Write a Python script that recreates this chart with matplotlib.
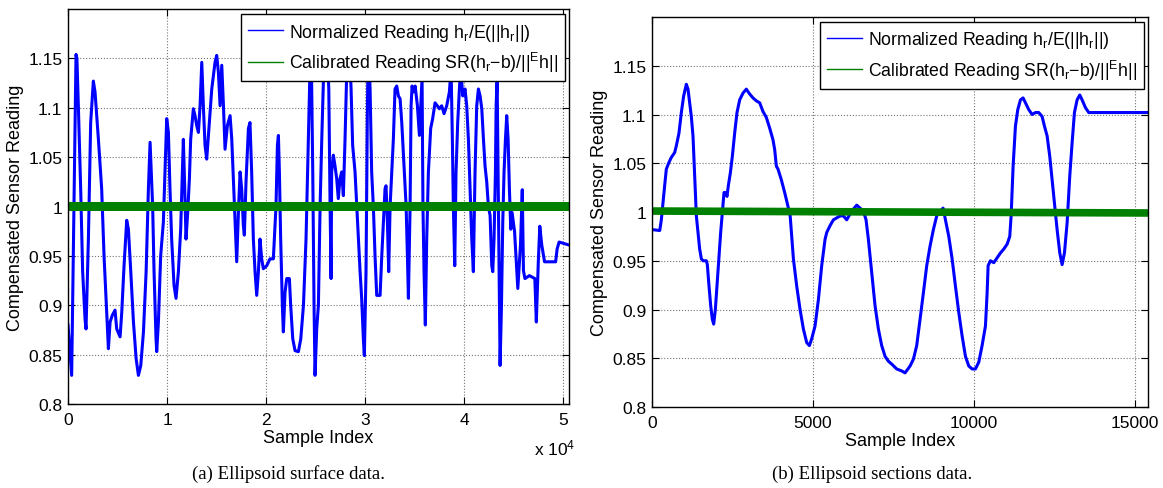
import matplotlib.pyplot as plt
from matplotlib.ticker import FuncFormatter

plt.rcParams['font.family'] = ['Liberation Sans', 'DejaVu Sans']
plt.rcParams['mathtext.fontset'] = 'custom'
plt.rcParams['mathtext.rm'] = 'Liberation Sans'
plt.rcParams['mathtext.it'] = 'Liberation Sans:italic'
plt.rcParams['mathtext.bf'] = 'Liberation Sans:bold'

# (a) Ellipsoid surface data : indices d'échantillon et lecture normalisée
surf_idx = [0, 370, 810, 900, 1045, 1280, 1480, 1720, 1820, 2060, 2290, 2560, 2730, 3070,
            3400, 3640, 3910, 4080, 4250, 4480, 4750, 4920, 5260, 5430, 5660, 5930, 6100,
            6340, 6610, 6880, 7110, 7350, 7620, 7890, 8120, 8290, 8550, 8690, 8890, 8960,
            9130, 9360, 9630, 9800, 9970, 10140, 10300, 10470, 10710, 10910, 11150, 11380,
            11650, 11790, 11920, 12090, 12260, 12390, 12660, 12830, 13000, 13170, 13340,
            13510, 13670, 13840, 14010, 14280, 14520, 14850, 15020, 15190, 15360, 15530,
            15700, 15860, 16100, 16370, 16540, 16710, 16880, 17040, 17210, 17380, 17540,
            17710, 17810, 17980, 18220, 18380, 18550, 18720, 18890, 19060, 19230, 19390,
            19560, 19730, 20070, 20400, 20740, 21010, 21150, 21250, 21350, 21480, 21650,
            21750, 21920, 22090, 22360, 22490, 22700, 22930, 23270, 23510, 23780, 24040,
            24280, 24450, 24550, 24720, 24850, 24950, 25120, 25290, 25460, 25630, 25800,
            25970, 26130, 26340, 26470, 26570, 26630, 26800, 26970, 27140, 27300, 27470,
            27640, 27810, 27980, 28150, 28420, 28590, 28750, 28990, 29160, 29330, 29500,
            29660, 29830, 29930, 30100, 30240, 30340, 30510, 30670, 30840, 31010, 31180,
            31520, 31690, 31850, 32020, 32120, 32260, 32390, 32530, 32700, 32860, 33030,
            33200, 33370, 33540, 33710, 33940, 34150, 34280, 34380, 34550, 34650, 34750,
            34890, 35060, 35290, 35490, 35630, 35760, 35850, 35960, 36090, 36230, 36400,
            36630, 36830, 37070, 37300, 37510, 37740, 37980, 38250, 38520, 38690, 38820,
            38920, 39060, 39190, 39360, 39530, 39660, 39870, 40100, 40270, 40440, 40610,
            40780, 40940, 41110, 41280, 41450, 41620, 41790, 41960, 42120, 42290, 42460,
            42630, 42800, 42900, 43030, 43170, 43240, 43340, 43440, 43540, 43640, 43780,
            43910, 44040, 44180, 44310, 44450, 44580, 44720, 44850, 45100, 45430, 45700,
            45880, 46000, 46150, 46600, 47150, 47300, 47500, 47650, 47850, 48130, 49250,
            49400, 49600, 50600]
surf_norm = [0.880, 0.829, 1.154, 1.150, 1.102, 1.018, 0.934, 0.886, 0.876, 0.967, 1.085,
             1.127, 1.116, 1.068, 1.018, 0.950, 0.893, 0.856, 0.883, 0.890, 0.895, 0.876,
             0.868, 0.893, 0.940, 0.986, 0.977, 0.934, 0.883, 0.846, 0.829, 0.839, 0.873,
             0.934, 1.018, 1.065, 1.000, 0.934, 0.866, 0.853, 0.883, 0.950, 0.984, 1.035,
             1.089, 1.075, 1.018, 0.967, 0.920, 0.907, 0.934, 0.977, 1.068, 1.018, 0.967,
             0.994, 1.028, 1.068, 1.099, 1.092, 1.082, 1.075, 1.102, 1.146, 1.102, 1.062,
             1.048, 1.085, 1.119, 1.146, 1.153, 1.136, 1.102, 1.143, 1.102, 1.058, 1.082,
             1.092, 1.068, 1.025, 0.981, 0.944, 0.994, 1.035, 1.018, 0.981, 0.971, 1.025,
             1.079, 1.085, 1.035, 0.967, 0.934, 0.910, 0.934, 0.967, 0.947, 0.937, 0.940,
             0.947, 0.947, 1.001, 1.062, 1.072, 1.035, 0.967, 0.900, 0.873, 0.913, 0.927,
             0.927, 0.900, 0.866, 0.854, 0.853, 0.866, 0.900, 0.967, 1.068, 1.143, 1.170,
             1.035, 0.900, 0.829, 0.876, 0.900, 1.000, 1.068, 1.129, 1.153, 1.170, 1.119,
             1.000, 0.927, 1.035, 1.052, 1.041, 1.028, 1.008, 1.028, 1.035, 1.011, 1.068,
             1.136, 1.165, 1.119, 1.062, 1.035, 1.001, 0.967, 0.934, 0.907, 0.866, 0.849,
             0.934, 1.102, 1.170, 1.119, 1.035, 1.000, 0.950, 0.910, 0.910, 0.950, 0.984,
             1.018, 1.021, 0.984, 0.934, 1.000, 1.035, 1.068, 1.119, 1.122, 1.112, 1.109,
             1.085, 1.041, 1.000, 0.950, 0.907, 1.000, 1.102, 1.122, 1.116, 1.122, 1.102,
             1.072, 1.102, 1.130, 1.000, 0.934, 0.880, 0.967, 1.035, 1.079, 1.089, 1.105,
             1.102, 1.099, 1.102, 1.094, 1.102, 1.116, 1.140, 1.068, 1.000, 0.940, 1.035,
             1.085, 1.119, 1.140, 1.112, 1.119, 1.102, 1.068, 1.018, 0.967, 0.934, 1.035,
             1.102, 1.119, 1.112, 1.099, 1.068, 1.041, 1.025, 1.000, 0.991, 0.940, 0.934,
             0.967, 1.035, 1.102, 1.129, 1.035, 0.934, 0.839, 0.900, 0.984, 1.035, 1.068,
             1.092, 1.068, 1.018, 0.977, 0.994, 0.975, 0.917, 0.961, 1.017, 0.935, 0.927,
             0.930, 0.927, 0.883, 0.944, 0.980, 0.961, 0.944, 0.944, 0.957, 0.964, 0.961]
surf_cal_idx = [0, 25000, 50600]
surf_cal = [1.001, 1.001, 1.001]

# (b) Ellipsoid sections data
sect_idx = [0, 240, 290, 342, 393, 445, 528, 600, 704, 756, 838, 911, 983, 1066, 1118,
            1170, 1221, 1273, 1325, 1377, 1428, 1480, 1532, 1584, 1687, 1718, 1770, 1822,
            1873, 1915, 1967, 2018, 2080, 2132, 2184, 2236, 2287, 2329, 2370, 2432, 2494,
            2567, 2639, 2722, 2826, 2929, 3033, 3136, 3240, 3343, 3447, 3550, 3654, 3757,
            3809, 3861, 3912, 4016, 4119, 4192, 4290, 4390, 4493, 4597, 4700, 4804, 4886,
            4959, 5062, 5166, 5269, 5373, 5425, 5528, 5632, 5735, 5839, 5942, 6046, 6149,
            6253, 6356, 6460, 6563, 6646, 6718, 6822, 6925, 7029, 7132, 7236, 7339, 7443,
            7598, 7753, 7857, 8012, 8116, 8219, 8323, 8426, 8530, 8633, 8737, 8840, 8956,
            9038, 9111, 9214, 9318, 9421, 9525, 9628, 9732, 9835, 9939, 10042, 10146,
            10249, 10353, 10405, 10436, 10508, 10612, 10715, 10819, 10922, 11026, 11108,
            11150, 11212, 11284, 11357, 11440, 11522, 11595, 11698, 11802, 11905, 12009,
            12112, 12185, 12268, 12350, 12423, 12495, 12578, 12661, 12733, 12806, 12889,
            12971, 13044, 13116, 13199, 13282, 13354, 13458, 13561, 15400]
sect_norm = [0.982, 0.981, 0.992, 1.010, 1.027, 1.044, 1.051, 1.056, 1.061, 1.068, 1.081,
             1.102, 1.119, 1.131, 1.126, 1.112, 1.098, 1.078, 1.037, 0.996, 0.979, 0.962,
             0.952, 0.950, 0.950, 0.946, 0.924, 0.904, 0.890, 0.885, 0.900, 0.924, 0.952,
             0.979, 0.999, 1.020, 1.020, 1.016, 1.027, 1.040, 1.057, 1.081, 1.102, 1.115,
             1.122, 1.126, 1.121, 1.117, 1.114, 1.112, 1.103, 1.097, 1.086, 1.074, 1.064,
             1.047, 1.044, 1.033, 1.020, 1.010, 0.996, 0.952, 0.924, 0.900, 0.880, 0.866,
             0.863, 0.870, 0.883, 0.910, 0.945, 0.972, 0.979, 0.986, 0.992, 0.994, 0.996,
             0.996, 0.992, 0.998, 1.003, 1.007, 1.004, 1.001, 0.992, 0.972, 0.938, 0.904,
             0.880, 0.863, 0.852, 0.847, 0.844, 0.839, 0.837, 0.835, 0.842, 0.849, 0.863,
             0.890, 0.917, 0.945, 0.965, 0.982, 0.996, 1.001, 1.004, 0.992, 0.975, 0.952,
             0.924, 0.897, 0.873, 0.852, 0.842, 0.839, 0.839, 0.846, 0.863, 0.883, 0.917,
             0.945, 0.950, 0.948, 0.953, 0.958, 0.962, 0.967, 0.975, 0.996, 1.047, 1.088,
             1.105, 1.115, 1.117, 1.112, 1.105, 1.100, 1.102, 1.102, 1.098, 1.088, 1.078,
             1.057, 1.033, 1.010, 0.982, 0.958, 0.946, 0.958, 0.989, 1.037, 1.071, 1.102,
             1.115, 1.120, 1.115, 1.107, 1.102, 1.102]
sect_cal_idx = [0, 7700, 15400]
sect_cal = [1.001, 1.000, 0.999]

y_ticks = [0.8, 0.85, 0.9, 0.95, 1.0, 1.05, 1.1, 1.15]
surf_xticks = [0, 10000, 20000, 30000, 40000, 50000]
sect_xticks = [0, 5000, 10000, 15000]

lab_norm = r'Normalized Reading h$_\mathrm{r}$/E(||h$_\mathrm{r}$||)'
lab_cal = r'Calibrated Reading SR(h$_\mathrm{r}$−b)/||$^\mathrm{E}$h||'

fig = plt.figure(figsize=(11.63, 4.89), dpi=100)
ax1 = fig.add_axes([68 / 1163, 84 / 489, 501 / 1163, 395 / 489])
ax2 = fig.add_axes([652 / 1163, 81 / 489, 496 / 1163, 390 / 489])


def draw(ax, idx, norm, cal_idx, cal, xmax, xticks, xfmt, cal_lw):
    ax.plot(idx, norm, color='#0000ff', lw=2.2, label=lab_norm)
    ax.plot(cal_idx, cal, color='#008000', lw=cal_lw, label=lab_cal)
    ax.set_xlim(0, xmax)
    ax.set_ylim(0.8, 1.2)
    ax.set_yticks(y_ticks)
    ax.set_xticks(xticks)
    ax.yaxis.set_major_formatter(FuncFormatter(lambda v, p: '%g' % round(v, 2)))
    ax.xaxis.set_major_formatter(FuncFormatter(xfmt))
    ax.grid(True, linestyle=':', color='0.45', linewidth=0.8)
    ax.set_axisbelow(True)
    ax.tick_params(direction='in', top=True, right=True, length=5, width=0.8,
                   labelsize=12.5, colors='black')
    ax.tick_params(axis='x', pad=6)
    ax.tick_params(axis='y', pad=4)
    for s in ax.spines.values():
        s.set_linewidth(1.0)
    ax.set_xlabel('Sample Index', fontsize=13, labelpad=1)
    ax.set_ylabel('Compensated Sensor Reading', fontsize=13, labelpad=3)
    leg = ax.legend(loc='upper right', bbox_to_anchor=(0.992, 0.987), borderaxespad=0,
                    fontsize=12.7, fancybox=False, framealpha=1, edgecolor='black',
                    handlelength=2.0, handletextpad=0.3, borderpad=0.42, labelspacing=0.4)
    leg.get_frame().set_linewidth(1.0)
    for l in leg.get_lines():
        l.set_linewidth(1.0)


draw(ax1, surf_idx, surf_norm, surf_cal_idx, surf_cal, 50600, surf_xticks,
     lambda v, p: '%g' % (v / 1e4), 6.5)
draw(ax2, sect_idx, sect_norm, sect_cal_idx, sect_cal, 15400, sect_xticks,
     lambda v, p: '%d' % v, 5.5)

ax1.text(1.012, -0.109, r'x 10$^{4}$', transform=ax1.transAxes, ha='right', va='center',
         fontsize=12.5)

fig.text(288 / 1163, 0.03, '(a) Ellipsoid surface data.', ha='center', va='center',
         family='Liberation Serif', fontsize=13.5)
fig.text(872 / 1163, 0.03, '(b) Ellipsoid sections data.', ha='center', va='center',
         family='Liberation Serif', fontsize=13.5)

fig.savefig('out.png', dpi=100)
